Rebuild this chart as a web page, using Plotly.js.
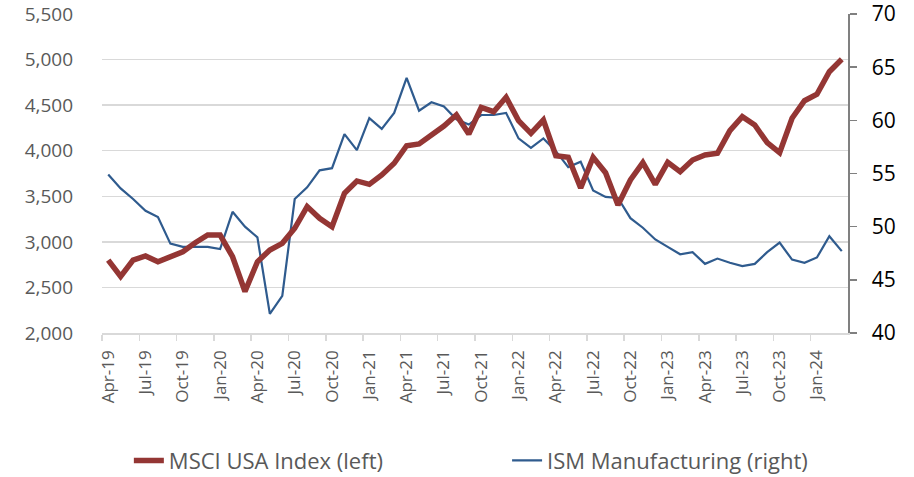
<!DOCTYPE html>
<html>
<head>
<meta charset="utf-8">
<script src="https://cdn.plot.ly/plotly-3.0.1.min.js"></script>
<style>html,body{margin:0;padding:0;background:#fff;}#chart{width:914px;height:477px;}</style>
</head>
<body>
<div id="chart"></div>
<script>
var months = [
  'Apr-19','May-19','Jun-19','Jul-19','Aug-19','Sep-19','Oct-19','Nov-19','Dec-19',
  'Jan-20','Feb-20','Mar-20','Apr-20','May-20','Jun-20','Jul-20','Aug-20','Sep-20','Oct-20','Nov-20','Dec-20',
  'Jan-21','Feb-21','Mar-21','Apr-21','May-21','Jun-21','Jul-21','Aug-21','Sep-21','Oct-21','Nov-21','Dec-21',
  'Jan-22','Feb-22','Mar-22','Apr-22','May-22','Jun-22','Jul-22','Aug-22','Sep-22','Oct-22','Nov-22','Dec-22',
  'Jan-23','Feb-23','Mar-23','Apr-23','May-23','Jun-23','Jul-23','Aug-23','Sep-23','Oct-23','Nov-23','Dec-23',
  'Jan-24','Feb-24','Mar-24'
];
var msciUSA = [
  2800,2620,2800,2845,2782,2837,2892,2990,3075,
  3075,2837,2455,2782,2911,2984,3149,3387,3258,3166,3533,3668,
  3631,3734,3862,4055,4074,4172,4271,4392,4183,4476,4428,4586,
  4330,4191,4337,3946,3928,3590,3928,3759,3404,3679,3869,3631,
  3873,3770,3898,3953,3972,4220,4374,4282,4088,3978,4356,4549,
  4619,4867,5003
];
var ismManufacturing = [
  54.9,53.6,52.6,51.5,50.9,48.4,48.1,48.1,48.1,
  47.9,51.4,50.0,49.0,41.8,43.5,52.6,53.7,55.3,55.5,58.7,57.2,
  60.2,59.2,60.7,64.0,60.9,61.7,61.3,60.1,59.6,60.5,60.5,60.7,
  58.3,57.4,58.3,57.1,55.6,56.1,53.4,52.8,52.7,50.8,49.9,48.8,
  48.1,47.4,47.6,46.5,47.0,46.6,46.3,46.5,47.6,48.5,46.9,46.6,
  47.1,49.1,47.7
];
var tickLabels = ['Apr-19','Jul-19','Oct-19','Jan-20','Apr-20','Jul-20','Oct-20','Jan-21','Apr-21','Jul-21',
  'Oct-21','Jan-22','Apr-22','Jul-22','Oct-22','Jan-23','Apr-23','Jul-23','Oct-23','Jan-24'];
var leftTicks = [2000,2500,3000,3500,4000,4500,5000,5500];
var rightTicks = [40,45,50,55,60,65,70];

var xIdx = months.map(function(_, i){ return i; });
var tickVals = tickLabels.map(function(l){ return months.indexOf(l); });
var boundaryVals = tickVals.map(function(v){ return v - 0.5; });

var FONT = '"Open Sans", "Noto Sans", sans-serif';
var GRAY = '#595959';

var traces = [
  {
    name: 'MSCI USA Index (left)',
    x: xIdx, y: msciUSA, xaxis: 'x', yaxis: 'y2', legend: 'legend',
    type: 'scatter', mode: 'lines',
    line: {color: '#943634', width: 5.5}
  },
  {
    name: 'ISM Manufacturing (right)',
    x: xIdx, y: ismManufacturing, xaxis: 'x', yaxis: 'y', legend: 'legend2',
    type: 'scatter', mode: 'lines',
    line: {color: '#2f5b8e', width: 2.2}
  }
];

var legendBase = {
  orientation: 'h', xanchor: 'left', y: -0.40, yanchor: 'middle',
  font: {family: FONT, size: 22, color: GRAY},
  bgcolor: 'rgba(0,0,0,0)'
};

var layout = {
  width: 914, height: 477,
  margin: {l: 102, r: 66, t: 14, b: 144, autoexpand: false},
  paper_bgcolor: '#fff', plot_bgcolor: '#fff',
  font: {family: FONT, color: GRAY},
  showlegend: true,
  legend: Object.assign({}, legendBase, {x: 0.036}),
  legend2: Object.assign({}, legendBase, {x: 0.543}),
  xaxis: {
    automargin: false,
    range: [-0.5, 59.5],
    tickmode: 'array', tickvals: tickVals, ticktext: tickLabels,
    tickangle: -90, ticks: 'outside', ticklen: 9, tickcolor: 'rgba(0,0,0,0)',
    tickfont: {family: FONT, size: 17, color: GRAY},
    ticklabeloverflow: 'allow',
    showgrid: false, zeroline: false,
    showline: true, linecolor: '#d9d9d9', linewidth: 1.5,
    minor: {tickmode: 'array', tickvals: boundaryVals, ticks: 'outside', ticklen: 6, tickcolor: '#d9d9d9', tickwidth: 1.5, showgrid: false}
  },
  yaxis: {
    automargin: false,
    side: 'right',
    range: [40, 70], tickmode: 'array', tickvals: rightTicks,
    showgrid: false, zeroline: false,
    showline: true, linecolor: '#808080', linewidth: 1.5,
    ticks: 'outside', ticklen: 18, tickcolor: 'rgba(0,0,0,0)',
    minor: {tickmode: 'array', tickvals: rightTicks, ticks: 'outside', ticklen: 7, tickcolor: '#808080', tickwidth: 1.5, showgrid: false},
    ticklabeloverflow: 'allow',
    tickfont: {family: FONT, size: 21, color: '#000'}
  },
  yaxis2: {
    automargin: false,
    side: 'left', overlaying: 'y',
    range: [2000, 5500], tickmode: 'array', tickvals: leftTicks,
    tickformat: ',d',
    showgrid: true, gridcolor: '#d9d9d9', gridwidth: 1.5,
    zeroline: false, showline: false, ticks: '',
    ticklabelstandoff: 28,
    ticklabeloverflow: 'allow',
    tickfont: {family: FONT, size: 19, color: GRAY}
  }
};

Plotly.newPlot('chart', traces, layout, {displayModeBar: false, staticPlot: true});
</script>
</body>
</html>
